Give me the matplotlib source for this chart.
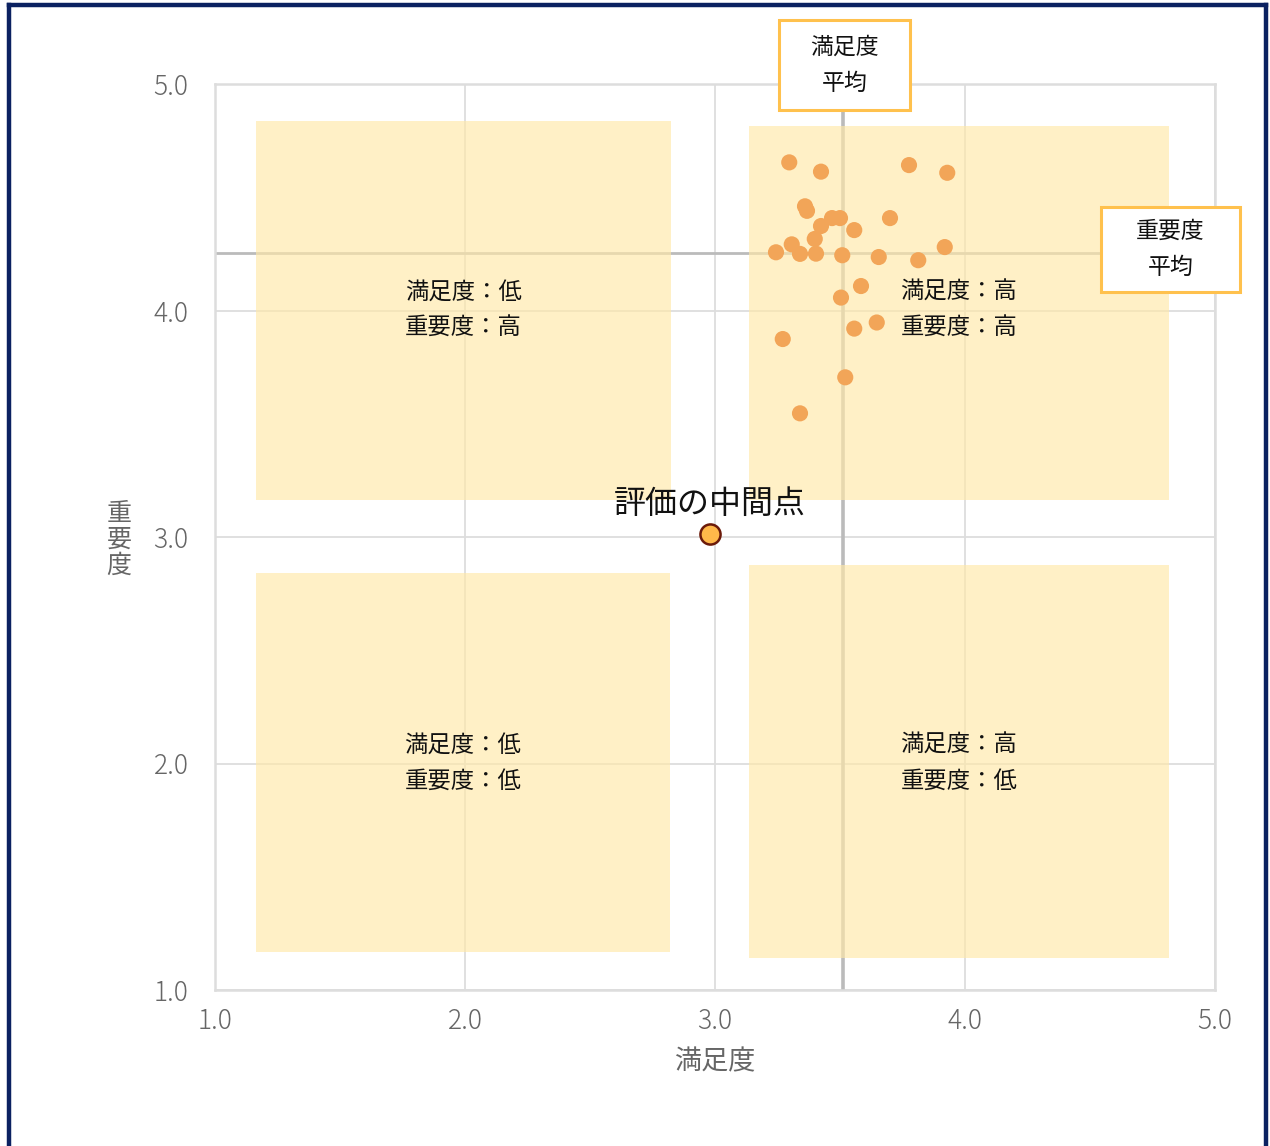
import matplotlib
matplotlib.use("Agg")
import matplotlib.pyplot as plt
from matplotlib.patches import Rectangle
from matplotlib.lines import Line2D
import numpy as np

plt.rcParams['font.family'] = ['Noto Sans CJK JP', 'DejaVu Sans']

# Survey results: satisfaction (満足度) vs importance (重要度)
satisfaction = [3.297, 3.424, 3.776, 3.929, 3.360, 3.368, 3.468, 3.500, 3.700,
                3.424, 3.557, 3.399, 3.307, 3.244, 3.340, 3.404, 3.509, 3.655,
                3.813, 3.919, 3.584, 3.504, 3.557, 3.647, 3.271, 3.521, 3.340]
importance = [4.654, 4.613, 4.642, 4.608, 4.460, 4.440, 4.408, 4.408, 4.408,
              4.373, 4.355, 4.316, 4.292, 4.257, 4.250, 4.251, 4.244, 4.236,
              4.222, 4.280, 4.108, 4.057, 3.920, 3.947, 3.874, 3.705, 3.546]

midpoint = (2.98, 3.015)
ticks = [1.0, 2.0, 3.0, 4.0, 5.0]
tick_labels = ["1.0", "2.0", "3.0", "4.0", "5.0"]

quadrant_labels = ["満足度：低\n重要度：高", "満足度：高\n重要度：高",
                   "満足度：低\n重要度：低", "満足度：高\n重要度：低"]
# (x0, x1, y0, y1) of each shaded quadrant area
quadrant_boxes = [(1.164, 2.824, 3.163, 4.836), (3.136, 4.816, 3.163, 4.815),
                  (1.164, 2.820, 1.168, 2.841), (3.136, 4.816, 1.141, 2.876)]

sat_mean = float(np.mean(satisfaction))
imp_mean = float(np.mean(importance))

W, H = 1270, 1146
fig = plt.figure(figsize=(W / 100, H / 100), dpi=100)
ax = fig.add_axes([215 / W, 1 - 990 / H, 1000 / W, 906 / H])
ax.set_xlim(1, 5)
ax.set_ylim(1, 5)

# grid and frame
ax.set_xticks(ticks)
ax.set_yticks(ticks)
ax.set_xticklabels(tick_labels)
ax.set_yticklabels(tick_labels)
ax.grid(True, color="#DDDDDD", linewidth=1.3, zorder=0)
ax.set_axisbelow(True)
for s in ax.spines.values():
    s.set_color("#DDDDDD")
    s.set_linewidth(1.8)
ax.tick_params(length=0, labelsize=19, colors="#666666")
ax.tick_params(axis="y", pad=19)
ax.tick_params(axis="x", pad=12)
for lab in ax.get_xticklabels() + ax.get_yticklabels():
    lab.set_fontweight("light")

# average lines
ax.axvline(sat_mean, color="#BBBBBB", linewidth=2.6, zorder=1)
ax.axhline(imp_mean, color="#BBBBBB", linewidth=2.0, zorder=1)

# quadrant areas and labels
for (x0, x1, y0, y1), lab in zip(quadrant_boxes, quadrant_labels):
    ax.add_patch(Rectangle((x0, y0), x1 - x0, y1 - y0, facecolor="#FFE8A8",
                           alpha=0.65, edgecolor="none", zorder=2))
    ax.text((x0 + x1) / 2, 4.0 if y0 > 3 else 2.0, lab, ha="center", va="center",
            fontsize=16.8, linespacing=1.72, color="#111111", zorder=3)

# data points
ax.scatter(satisfaction, importance, s=135, color="#F2A558", edgecolors="none",
           zorder=4)

# midpoint of the rating scale
ax.scatter([midpoint[0]], [midpoint[1]], s=210, color="#FFB84A",
           edgecolors="#6B1A0A", linewidths=1.8, zorder=5)
ax.text(midpoint[0], midpoint[1] + 0.06, "評価の中間点", ha="center", va="bottom",
        fontsize=23, color="#111111", zorder=5)

# axis titles
ax.set_xlabel("満足度", fontsize=19.5, color="#666666", labelpad=10)
fig.text(119 / W, 1 - 540 / H, "重\n要\n度", ha="center", va="center",
         fontsize=18, color="#666666", linespacing=1.0)

# average labels in framed boxes
for (x0, y0, x1, y1), lab in [((779, 20, 910, 110), "満足度\n平均"),
                              ((1101, 207, 1240, 292), "重要度\n平均")]:
    fig.add_artist(Rectangle((x0 / W, 1 - y1 / H), (x1 - x0) / W, (y1 - y0) / H,
                             transform=fig.transFigure, facecolor="white",
                             edgecolor="#FFC14D", linewidth=2.2, zorder=10))
    fig.text((x0 + x1) / 2 / W, 1 - (y0 + y1) / 2 / H, lab, ha="center",
             va="center", fontsize=16.5, linespacing=1.75, color="#111111",
             zorder=11)

# outer frame
navy = "#0B2161"
for xs, ys in [([9 / W, 9 / W], [0, 1 - 5 / H]),
               ([9 / W, 1266 / W], [1 - 5 / H, 1 - 5 / H]),
               ([1266 / W, 1266 / W], [0, 1 - 5 / H])]:
    fig.add_artist(Line2D(xs, ys, transform=fig.transFigure, color=navy,
                          linewidth=3.2, solid_capstyle="projecting"))

fig.savefig("out.png", dpi=100, facecolor="white")
